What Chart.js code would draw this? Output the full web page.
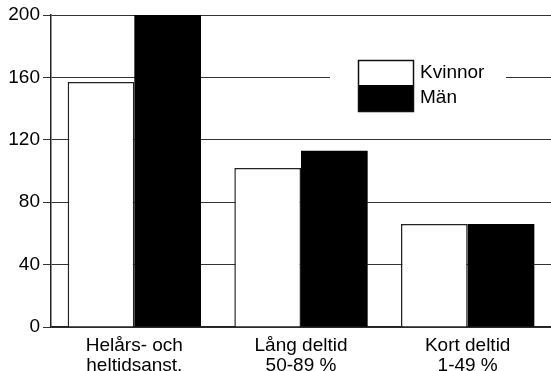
<!DOCTYPE html>
<html lang="sv">
<head>
<meta charset="UTF-8">
<title>Kvinnor och män</title>
<script src="https://cdn.jsdelivr.net/npm/chart.js"></script>
<style>
  html, body { margin: 0; padding: 0; background: #fff; }
  #wrap { width: 551px; height: 371px; }
</style>
</head>
<body>
<div id="wrap"><canvas id="chart" width="551" height="371"></canvas></div>
<script>
    // Data
    const categories = [["Helårs- och", "heltidsanst."], ["Lång deltid", "50-89 %"], ["Kort deltid", "1-49 %"]];
    const seriesNames = ["Kvinnor", "Män"];
    const kvinnor = [157, 102, 66];
    const man = [200, 113, 66];
    const yTicks = [0, 40, 80, 120, 160, 200];

    const font = { family: "'Liberation Sans', Arial, sans-serif", size: 19 };

    // Legend box drawn inside the plot, on a white patch
    const boxLegend = {
        id: "boxLegend",
        afterDraw(chart) {
            const ctx = chart.ctx;
            const y = chart.scales.y;
            const mid = y.getPixelForValue(160);
            ctx.save();
            ctx.fillStyle = "#fff";
            ctx.fillRect(330, mid - 22, 176, 44);
            // swatches
            ctx.fillStyle = "#fff";
            ctx.fillRect(358, 60, 56, 25);
            ctx.fillStyle = "#000";
            ctx.fillRect(358, 85, 56, 27);
            ctx.strokeStyle = "#111";
            ctx.lineWidth = 1.5;
            ctx.strokeRect(358.5, 60.5, 55, 51);
            ctx.fillStyle = "#000";
            ctx.font = font.size + "px " + font.family;
            ctx.textBaseline = "middle";
            ctx.fillText(seriesNames[0], 420, 73);
            ctx.fillText(seriesNames[1], 420, 98);
            ctx.restore();
        }
    };

    const chart = new Chart(document.getElementById("chart").getContext("2d"), {
        type: "bar",
        data: {
            labels: categories,
            datasets: [
                {
                    label: seriesNames[0],
                    data: kvinnor,
                    backgroundColor: "#fff",
                    borderColor: "#222",
                    borderWidth: 1.5,
                    borderSkipped: "bottom"
                },
                {
                    label: seriesNames[1],
                    data: man,
                    backgroundColor: "#000",
                    borderWidth: 0
                }
            ]
        },
        options: {
            responsive: false,
            animation: false,
            layout: { padding: { top: 15, right: 0, left: 0, bottom: 0 } },
            plugins: {
                legend: { display: false },
                tooltip: { enabled: false }
            },
            datasets: {
                bar: { categoryPercentage: 0.8, barPercentage: 1.0 }
            },
            scales: {
                x: {
                    grid: { display: false },
                    border: { display: true, color: "#222", width: 1.5 },
                    ticks: { color: "#000", font: { family: font.family, size: 19, lineHeight: 1.05 }, padding: 1, maxRotation: 0 },
                    afterFit(s) { s.height = 44; }
                },
                y: {
                    min: 0,
                    max: 200,
                    afterBuildTicks(s) { s.ticks = yTicks.map(v => ({ value: v })); },
                    grid: { color: "#333", lineWidth: 1, tickLength: 8 },
                    border: { display: true, color: "#222", width: 1.5 },
                    ticks: { color: "#000", font: font, padding: 3 },
                    afterFit(s) { s.width = 51; }
                }
            }
        },
        plugins: [boxLegend]
    });
</script>
</body>
</html>
